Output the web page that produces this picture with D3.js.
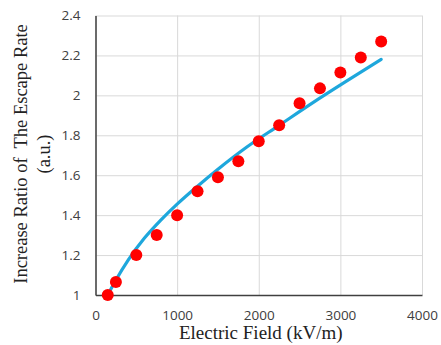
<!DOCTYPE html>
<html>
<head>
<meta charset="utf-8">
<script src="https://cdn.jsdelivr.net/npm/d3@7"></script>
<style>
  body { margin: 0; background: #fff; }
  svg { display: block; }
</style>
</head>
<body>
<div id="chart"></div>
<script>
// measured points (red dots)
const fieldValues = [150, 250, 500, 750, 1000, 1250, 1500, 1750, 2000, 2250, 2500, 2750, 3000, 3250, 3500];
const ratioValues = [1.0, 1.065, 1.2, 1.3, 1.4, 1.52, 1.59, 1.67, 1.77, 1.85, 1.96, 2.035, 2.115, 2.19, 2.27];

// trend curve
const fitField = [150, 250, 400, 600, 800, 1000, 1250, 1500, 1850, 2250, 2650, 3050, 3500];
const fitRatio = [1.0, 1.075, 1.175, 1.285, 1.375, 1.455, 1.545, 1.63, 1.74, 1.85, 1.96, 2.065, 2.18];

const xTicks = [0, 1000, 2000, 3000, 4000];
const yTicks = [1, 1.2, 1.4, 1.6, 1.8, 2, 2.2, 2.4];

const W = 441, H = 345;
const margin = { top: 15.5, right: 19, bottom: 50, left: 95.5 };
const width = W - margin.left - margin.right;
const height = H - margin.top - margin.bottom;

const svg = d3.select("#chart")
  .append("svg")
  .attr("width", W)
  .attr("height", H);

const g = svg.append("g")
  .attr("transform", `translate(${margin.left},${margin.top})`);

const x = d3.scaleLinear().domain([0, 4000]).range([0, width]);
const y = d3.scaleLinear().domain([1, 2.4]).range([height, 0]);

// grid
g.append("g")
  .attr("class", "grid")
  .call(d3.axisLeft(y).tickValues(yTicks).tickSize(-width).tickFormat(""))
  .call((s) => s.select(".domain").remove())
  .selectAll("line")
  .attr("stroke", "#d9d9d9");

g.append("g")
  .attr("class", "grid")
  .attr("transform", `translate(0,${height})`)
  .call(d3.axisBottom(x).tickValues(xTicks).tickSize(-height).tickFormat(""))
  .call((s) => s.select(".domain").remove())
  .selectAll("line")
  .attr("stroke", "#d9d9d9");

// axes
const yAxis = g.append("g")
  .call(d3.axisLeft(y).tickValues(yTicks).tickSize(0).tickPadding(15).tickFormat(d3.format("")));
const xAxis = g.append("g")
  .attr("transform", `translate(0,${height})`)
  .call(d3.axisBottom(x).tickValues(xTicks).tickSize(0).tickPadding(15).tickFormat(d3.format("")));

[xAxis, yAxis].forEach((a) => {
  a.select(".domain").attr("stroke", "#404040").attr("stroke-width", 1.5);
  a.selectAll("text")
    .attr("fill", "#404040")
    .style("font-family", "'Open Sans', 'Noto Sans', sans-serif")
    .style("font-size", "13.5px");
});

// trend curve
const line = d3.line()
  .x((d, i) => x(fitField[i]))
  .y((d) => y(d))
  .curve(d3.curveMonotoneX);

g.append("path")
  .datum(fitRatio)
  .attr("fill", "none")
  .attr("stroke", "#1ea7dc")
  .attr("stroke-width", 3.2)
  .attr("stroke-linecap", "round")
  .attr("d", line);

// dots
g.append("g")
  .selectAll("circle")
  .data(ratioValues)
  .join("circle")
  .attr("cx", (d, i) => x(fieldValues[i]))
  .attr("cy", (d) => y(d))
  .attr("r", 6)
  .attr("fill", "#ff0000");

// titles
svg.append("text")
  .attr("x", margin.left + width / 2 + 2)
  .attr("y", 339)
  .attr("text-anchor", "middle")
  .style("font-family", "'Liberation Serif', 'Times New Roman', serif")
  .style("font-size", "19px")
  .attr("fill", "#222")
  .text("Electric Field (kV/m)");

const yTitle = svg.append("text")
  .attr("transform", "translate(0,154) rotate(-90)")
  .attr("text-anchor", "middle")
  .style("font-family", "'Liberation Serif', 'Times New Roman', serif")
  .style("font-size", "18.5px")
  .attr("fill", "#222");

yTitle.append("tspan").attr("x", 0).attr("y", 27).attr("xml:space", "preserve").text("Increase Ratio of  The Escape Rate");
yTitle.append("tspan").attr("x", 0).attr("y", 50).text("(a.u.)");
</script>
</body>
</html>
